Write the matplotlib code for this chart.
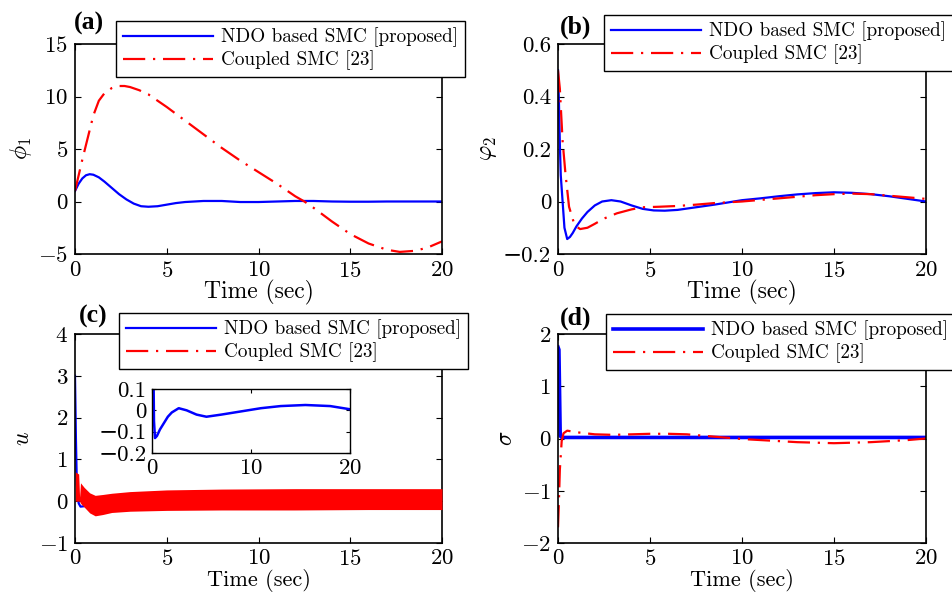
import matplotlib
matplotlib.use('Agg')
import matplotlib.pyplot as plt

plt.rcParams['font.family'] = ['cmr10', 'DejaVu Serif']
plt.rcParams['mathtext.fontset'] = 'cm'
plt.rcParams['axes.formatter.use_mathtext'] = True
plt.rcParams['axes.unicode_minus'] = True

# panel (a): phi_1
t_a_ndo = [0, 0.2, 0.4, 0.6, 0.8, 1.0, 1.3, 1.6, 2.0, 2.4, 2.8, 3.2, 3.6, 4.0, 4.5, 5, 5.5, 6,
           7, 8, 9, 10, 11, 12, 13, 14, 15, 16, 17, 18, 19, 20]
phi1_ndo = [1.0, 1.7, 2.2, 2.5, 2.6, 2.55, 2.3, 1.9, 1.3, 0.7, 0.2, -0.2, -0.45, -0.5, -0.45, -0.3,
            -0.15, -0.05, 0.05, 0.05, -0.05, -0.05, 0.0, 0.05, 0.05, 0.0, -0.02, -0.02, 0.0, 0.0, 0.0, 0.0]
t_a_cpl = [0, 0.2, 0.4, 0.6, 0.8, 1.0, 1.3, 1.6, 2.0, 2.3, 2.7, 3.0, 3.5, 4, 5, 6, 7, 8, 9, 10,
           11, 12, 12.5, 13, 14, 15, 16, 17, 17.7, 18.5, 19.2, 20]
phi1_cpl = [1.0, 2.5, 4.0, 5.4, 6.8, 8.2, 9.6, 10.3, 10.8, 11.0, 11.0, 10.9, 10.6, 10.2, 9.0, 7.7,
            6.4, 5.1, 3.9, 2.8, 1.7, 0.5, 0.0, -0.6, -1.9, -3.1, -4.0, -4.6, -4.8, -4.7, -4.4, -3.8]

# panel (b): phi_2
t_b_ndo = [0, 0.05, 0.1, 0.15, 0.25, 0.35, 0.5, 0.65, 0.8, 1.0, 1.3, 1.6, 2.0, 2.4, 2.9, 3.4, 4.0,
           4.6, 5.2, 5.8, 6.5, 7.5, 8.5, 10, 11, 12, 13, 14, 15, 16, 17, 18, 19, 20]
phi2_ndo = [0.5, 0.38, 0.22, 0.1, 0.0, -0.1, -0.143, -0.135, -0.12, -0.095, -0.065, -0.04, -0.015,
            0.0, 0.005, 0.0, -0.015, -0.028, -0.034, -0.035, -0.032, -0.022, -0.012, 0.005, 0.012,
            0.02, 0.027, 0.032, 0.035, 0.033, 0.028, 0.02, 0.01, 0.0]
t_b_cpl = [0, 0.1, 0.25, 0.4, 0.6, 0.9, 1.2, 1.6, 2.0, 2.5, 3.2, 4.0, 4.6, 5.5, 6.5, 7.5, 8.5, 10,
           11, 12, 13, 14, 15, 16, 17, 18, 19, 20]
phi2_cpl = [0.5, 0.43, 0.23, 0.11, -0.02, -0.09, -0.105, -0.1, -0.085, -0.065, -0.045, -0.03,
            -0.022, -0.02, -0.017, -0.012, -0.006, 0.0, 0.006, 0.012, 0.018, 0.024, 0.028, 0.03,
            0.028, 0.022, 0.016, 0.01]

# panel (c): control input u
t_c_ndo = [0, 0.05, 0.1, 0.2, 0.3, 0.5, 0.8, 1.2, 1.6, 2.0, 2.7, 3.5, 4.5, 5.5, 7, 9, 11, 13,
           15.5, 18, 20]
u_ndo = [3.0, 1.5, 0.4, -0.05, -0.13, -0.12, -0.09, -0.06, -0.03, -0.01, 0.01, 0.0, -0.02, -0.03,
         -0.02, -0.005, 0.01, 0.02, 0.025, 0.02, 0.005]
# chattering band of the coupled SMC input (upper / lower envelope)
t_c_cpl = [0.02, 0.2, 0.25, 0.3, 0.5, 0.8, 1.1, 1.5, 2, 3, 5, 8, 12, 16, 20]
u_cpl_hi = [0.7, 0.65, 0.1, 0.44, 0.33, 0.2, 0.14, 0.16, 0.19, 0.23, 0.27, 0.29, 0.3, 0.3, 0.3]
u_cpl_lo = [0.0, 0.0, 0.0, -0.05, -0.14, -0.28, -0.35, -0.32, -0.27, -0.24, -0.22, -0.21, -0.21,
            -0.2, -0.2]

# panel (d): sliding surface sigma
t_d_ndo = [0, 0.05, 0.12, 0.2, 5, 10, 15, 20]
sigma_ndo = [1.75, 1.7, 0.05, 0.02, 0.02, 0.02, 0.02, 0.02]
t_d_cpl = [0, 0.05, 0.1, 0.2, 0.3, 0.5, 1, 2, 3, 4, 5, 6, 7, 8, 9, 10, 11, 12, 13, 14, 15, 16,
           17, 18, 19, 20]
sigma_cpl = [-1.7, -1.2, -0.6, -0.05, 0.1, 0.15, 0.12, 0.08, 0.07, 0.08, 0.09, 0.09, 0.08, 0.05,
             0.02, -0.01, -0.03, -0.05, -0.07, -0.08, -0.09, -0.08, -0.07, -0.05, -0.03, 0.0]

lbl_ndo = 'NDO based SMC [proposed]'
lbl_cpl = 'Coupled SMC [23]'
dashdot = (0, (10, 3.5, 1, 3.5))
W, H = 952.0, 593.0


def box(x0, y0, x1, y1):
    return [x0 / W, 1 - y1 / H, (x1 - x0) / W, (y1 - y0) / H]


def style(ax, ylabel, xlpad=-1, xlsize=17, tpad=5):
    ax.set_xlim(0, 20)
    ax.set_xticks([0, 5, 10, 15, 20])
    ax.tick_params(direction='in', top=True, right=True, length=4, width=0.8,
                   labelsize=16.5, pad=5)
    ax.tick_params(axis='x', pad=tpad)
    for s in ax.spines.values():
        s.set_linewidth(1.2)
    ax.set_xlabel('Time (sec)', fontsize=xlsize, labelpad=xlpad)
    ax.set_ylabel(ylabel, fontsize=17, labelpad=3)


def legend(fig, ax, x, y):
    h = ax.get_legend_handles_labels()
    fig.legend(*h, loc='upper left', bbox_to_anchor=(x / W, 1 - y / H), fontsize=13.8,
               handlelength=4.7, fancybox=False, framealpha=1, edgecolor='black',
               borderpad=0.35, labelspacing=0.15, borderaxespad=0, handletextpad=0.45)
    fig.legends[-1].get_frame().set_linewidth(1.0)


def tag(fig, x, y, s):
    fig.text(x / W, 1 - y / H, s, fontsize=18.5, fontweight='bold',
             family='Liberation Serif', va='center')


fig = plt.figure(figsize=(9.52, 5.93), dpi=100)

ax = fig.add_axes(box(75, 44, 442, 254))
ax.plot(t_a_ndo, phi1_ndo, color='blue', lw=1.6, label=lbl_ndo)
ax.plot(t_a_cpl, phi1_cpl, color='red', lw=1.6, ls=dashdot, label=lbl_cpl)
ax.set_ylim(-5, 15)
ax.set_yticks([-5, 0, 5, 10, 15])
style(ax, r'$\phi_1$')
legend(fig, ax, 116, 21)
tag(fig, 74, 23, '(a)')

ax = fig.add_axes(box(558, 44, 926, 254))
ax.plot(t_b_ndo, phi2_ndo, color='blue', lw=1.6, label=lbl_ndo)
ax.plot(t_b_cpl, phi2_cpl, color='red', lw=1.6, ls=dashdot, label=lbl_cpl)
ax.set_ylim(-0.2, 0.6)
ax.set_yticks([-0.2, 0, 0.2, 0.4, 0.6])
ax.set_yticklabels(['\u22120.2', '0', '0.2', '0.4', '0.6'])
style(ax, r'$\varphi_2$')
legend(fig, ax, 604, 15)
tag(fig, 560, 27, '(b)')

ax = fig.add_axes(box(75, 334, 442, 543))
ax.plot(t_c_ndo, u_ndo, color='blue', lw=1.6, label=lbl_ndo)
ax.fill_between(t_c_cpl, u_cpl_lo, u_cpl_hi, color='red', lw=0, zorder=3)
ax.plot([], [], color='red', lw=1.6, ls=dashdot, label=lbl_cpl)
ax.set_ylim(-1, 4)
ax.set_yticks([-1, 0, 1, 2, 3, 4])
style(ax, r'$u$', xlpad=0, xlsize=16, tpad=4)
legend(fig, ax, 119, 313)
tag(fig, 79, 316, '(c)')

ins = fig.add_axes(box(152, 389, 350, 453))
ins.plot(t_c_ndo, u_ndo, color='blue', lw=1.8)
ins.set_xlim(0, 20)
ins.set_ylim(-0.2, 0.1)
ins.set_xticks([0, 10, 20])
ins.set_yticks([-0.2, -0.1, 0, 0.1])
ins.set_yticklabels(['\u22120.2', '\u22120.1', '0', '0.1'])
ins.tick_params(direction='in', top=True, right=True, length=3, width=0.8,
                labelsize=16.5, pad=4)
for s in ins.spines.values():
    s.set_linewidth(1.0)

ax = fig.add_axes(box(558, 334, 926, 543))
ax.plot(t_d_ndo, sigma_ndo, color='blue', lw=2.6, label=lbl_ndo)
ax.plot(t_d_cpl, sigma_cpl, color='red', lw=1.6, ls=dashdot, label=lbl_cpl)
ax.set_ylim(-2, 2)
ax.set_yticks([-2, -1, 0, 1, 2])
style(ax, r'$\sigma$', xlpad=0, xlsize=16, tpad=4)
legend(fig, ax, 606, 314)
tag(fig, 560, 318, '(d)')

fig.savefig('out.png', dpi=100)
